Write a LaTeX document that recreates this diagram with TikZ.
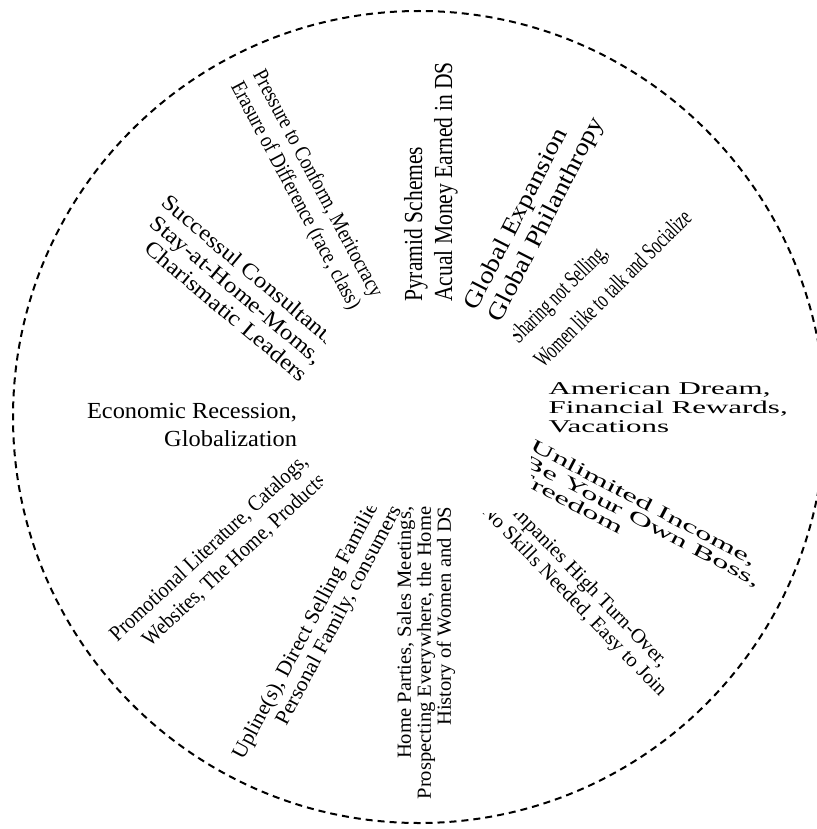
\documentclass[tikz,border=0pt]{standalone}
\usepackage{fontspec}
\setmainfont{Liberation Serif}
\tikzset{
  blurb/.style={inner sep=0pt, align=left},
  ring/.style={line width=1pt, dash pattern=on 3.5pt off 2.5pt},
}
\newcommand{\fs}[2]{\fontsize{#1}{#2}\selectfont}

\begin{document}
\begin{tikzpicture}[x=0.5pt,y=-0.5pt]
  \useasboundingbox (0,0) rectangle (817,829);
  \draw[ring] (419,417) circle[radius=203pt];

  % upper half
  \node[blurb, rotate=-62, xscale=0.845, font=\fs{11}{12.5}] (pressure) at (306,190)
    {Pressure to Conform, Meritocracy\\Erasure of Difference (race, class)};
  \node[blurb, rotate=90, xscale=0.83, font=\fs{13}{15}] (pyramid) at (431,182)
    {Pyramid Schemes\\Acual Money Earned in DS};
  \node[blurb, rotate=63, xscale=1.16, font=\fs{12}{13.5}] (expansion) at (535,214)
    {Global Expansion\\Global Philanthropy};
  \begin{scope}
    \clip (513,0) rectangle (817,829);
    \node[blurb, rotate=45, xscale=0.667, font=\fs{12}{17.5}] (sharing) at (600,276)
      {Sharing not Selling,\\Women like to talk and Socialize};
  \end{scope}
  \begin{scope}
    \clip (0,0) rectangle (325,829);
    \node[blurb, align=right, rotate=-40, xscale=1.13, font=\fs{11}{11.5}] (leaders) at (235,288)
      {Successul Consultants\\Stay-at-Home-Moms,\\Charismatic Leaders};
  \end{scope}

  % across the middle
  \node[blurb, align=right, xscale=1.06, font=\fs{11.5}{14}] (recession) at (192,425)
    {Economic Recession,\\Globalization};
  \node[blurb, anchor=north west, xscale=1.72, font=\fs{9}{9.5}] (dream) at (548,382)
    {American Dream,\\Financial Rewards,\\Vacations};
  \begin{scope}
    \clip (531,0) rectangle (817,829);
    \node[blurb, anchor=north west, rotate=-27.5, xscale=1.85, font=\fs{9}{8.5}] (income) at (535,438)
      {Unlimited Income,\\Be Your Own Boss,\\Freedom};
  \end{scope}

  % lower half
  \begin{scope}
    \clip (0,513) rectangle (817,829);
    \node[blurb, rotate=-46, xscale=1.035, font=\fs{10}{10.5}] (turnover) at (581,594)
      {Companies High Turn-Over,\\No Skills Needed, Easy to Join};
  \end{scope}
  \node[blurb, align=right, rotate=90, xscale=1.03, font=\fs{10}{10}] (parties) at (426,653)
    {Home Parties, Sales Meetings,\\Prospecting Everywhere, the Home\\History of Women and DS};
  \begin{scope}
    \clip (0,506) rectangle (817,829);
    \node[blurb, align=right, rotate=62, xscale=1.04, font=\fs{10.5}{11}] (upline) at (318,633)
      {Upline(s), Direct Selling Families\\Personal Family, consumers};
  \end{scope}
  \begin{scope}
    \clip (0,0) rectangle (322,829);
    \node[blurb, align=right, rotate=43, xscale=0.89, font=\fs{11}{13}] (promo) at (218,558)
      {Promotional Literature, Catalogs,\\Websites, The Home, Products};
  \end{scope}
\end{tikzpicture}
\end{document}
